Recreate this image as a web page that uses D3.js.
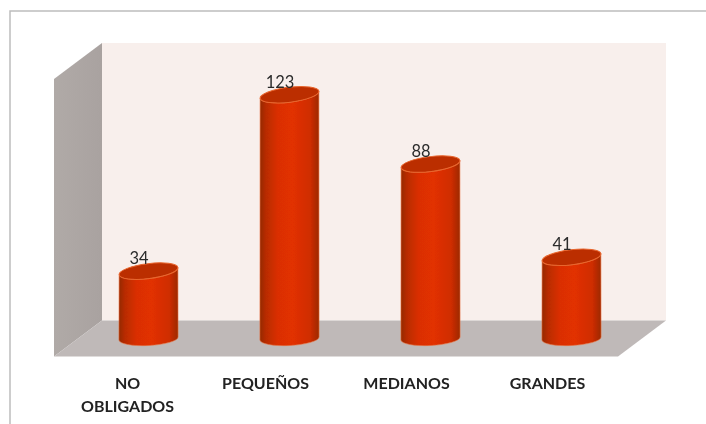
<!DOCTYPE html>
<html>
<head>
<meta charset="utf-8">
<script src="https://cdn.jsdelivr.net/npm/d3@7"></script>
<style>
  html, body { margin: 0; padding: 0; background: #fff; }
  svg { display: block; }
  .tick text { font-family: Lato, sans-serif; font-weight: 700; font-size: 16px; fill: #222; }
  .datalabel { font-family: Lato, sans-serif; font-size: 16.5px; fill: #2b2b2b; text-anchor: middle; }
</style>
</head>
<body>
<div class="vizcontainer"></div>
<script>
const categories = ["NO OBLIGADOS", "PEQUEÑOS", "MEDIANOS", "GRANDES"];
const values = [34, 123, 88, 41];

const width = 706, height = 424;
const front = { left: 54, right: 618, top: 79, bottom: 356.5 };
const depth = { x: 48, y: -36 };
const rimTilt = -7, baseTilt = -3, rimRy = 7.5, baseRy = 7;

var svgCanvas = d3.select(".vizcontainer")
  .append("svg")
  .attr("width", width)
  .attr("height", height);

var defs = svgCanvas.append("defs");

var bodyGrad = defs.append("linearGradient").attr("id", "bodyGrad");
[[0, "#942800"], [0.1, "#b82c00"], [0.3, "#da2f00"], [0.55, "#e23000"], [0.85, "#cf2d00"], [1, "#9c2900"]]
  .forEach(s => bodyGrad.append("stop").attr("offset", s[0]).attr("stop-color", s[1]));

var wallGrad = defs.append("linearGradient").attr("id", "wallGrad");
wallGrad.append("stop").attr("offset", 0).attr("stop-color", "#b0aaa7");
wallGrad.append("stop").attr("offset", 1).attr("stop-color", "#a9a2a0");

defs.append("filter").attr("id", "soft")
  .append("feGaussianBlur").attr("stdDeviation", 0.45);
defs.append("filter").attr("id", "softText")
  .append("feGaussianBlur").attr("stdDeviation", 0.35);

// picture frame, only top and left show
svgCanvas.append("path")
  .attr("d", `M10,${height} V11 H${width}`)
  .attr("fill", "none")
  .attr("stroke", "#bdbdbd")
  .attr("stroke-width", 1.5);

var xscale = d3.scaleBand()
  .domain(categories)
  .range([front.left, front.right])
  .paddingInner(0.58)
  .paddingOuter(0.29);

var yscale = d3.scaleLinear()
  .domain([0, 140])
  .range([front.bottom, front.top]);

var box = svgCanvas.append("g").attr("filter", "url(#soft)");

// back wall
box.append("rect")
  .attr("x", front.left + depth.x)
  .attr("y", front.top + depth.y)
  .attr("width", front.right - front.left)
  .attr("height", front.bottom - front.top)
  .attr("fill", "#f8efec");

// side wall
box.append("path")
  .attr("d", d3.line()([
    [front.left, front.top],
    [front.left + depth.x, front.top + depth.y],
    [front.left + depth.x, front.bottom + depth.y],
    [front.left, front.bottom]
  ]) + "Z")
  .attr("fill", "url(#wallGrad)");

// floor
box.append("path")
  .attr("d", d3.line()([
    [front.left, front.bottom],
    [front.left + depth.x, front.bottom + depth.y],
    [front.right + depth.x, front.bottom + depth.y],
    [front.right, front.bottom]
  ]) + "Z")
  .attr("fill", "#bfb9b8");

// cylinders stand half way into the box
const cx = d => xscale(d.cat) + xscale.bandwidth() / 2 + depth.x / 2;
const cy = v => yscale(v) + depth.y / 2;
const rx = xscale.bandwidth() / 2;
const sin = t => Math.sin(t * Math.PI / 180);
const cos = t => Math.cos(t * Math.PI / 180);

const rows = categories.map((c, i) => ({ cat: c, val: values[i] }));

function bodyPath(d) {
  var x = cx(d), t = cy(d.val), b = cy(0);
  return `M${x - rx * cos(rimTilt)},${t - rx * sin(rimTilt)}` +
    `L${x - rx * cos(baseTilt)},${b - rx * sin(baseTilt)}` +
    `A${rx},${baseRy} ${baseTilt} 0 0 ${x + rx * cos(baseTilt)},${b + rx * sin(baseTilt)}` +
    `L${x + rx * cos(rimTilt)},${t + rx * sin(rimTilt)}` +
    `A${rx},${rimRy} ${rimTilt} 0 1 ${x - rx * cos(rimTilt)},${t - rx * sin(rimTilt)}Z`;
}

var bars = svgCanvas.append("g").attr("filter", "url(#soft)");

bars.selectAll("path.body")
  .data(rows)
  .enter()
  .append("path")
  .attr("class", "body")
  .attr("d", bodyPath)
  .attr("fill", "url(#bodyGrad)")
  .attr("stroke", "#e8703f")
  .attr("stroke-width", 0.6);

bars.selectAll("ellipse.rim")
  .data(rows)
  .enter()
  .append("ellipse")
  .attr("class", "rim")
  .attr("rx", rx)
  .attr("ry", rimRy)
  .attr("transform", d => `translate(${cx(d)},${cy(d.val)}) rotate(${rimTilt})`)
  .attr("fill", "#bb2e00")
  .attr("stroke", "#e8662e")
  .attr("stroke-width", 1);

// value labels
svgCanvas.append("g").attr("filter", "url(#softText)")
  .selectAll("text.datalabel")
  .data(rows)
  .enter()
  .append("text")
  .attr("class", "datalabel")
  .attr("x", d => cx(d) - 9.5)
  .attr("y", d => cy(d.val) - 7)
  .text(d => d.val);

// category axis
var xAxis = d3.axisBottom(xscale).tickSize(0).tickPadding(0);
var axisG = svgCanvas.append("g")
  .attr("transform", `translate(0,${front.bottom})`)
  .attr("filter", "url(#softText)")
  .call(xAxis);
axisG.select(".domain").remove();

axisG.selectAll(".tick text").each(function (d) {
  var el = d3.select(this), words = d.split(" ");
  el.text(null).attr("y", 0).attr("dy", null);
  words.forEach((w, i) => {
    el.append("tspan")
      .attr("x", words.length > 1 ? 3 : 0)
      .attr("y", 32.5 + i * 23)
      .text(w);
  });
});
</script>
</body>
</html>
